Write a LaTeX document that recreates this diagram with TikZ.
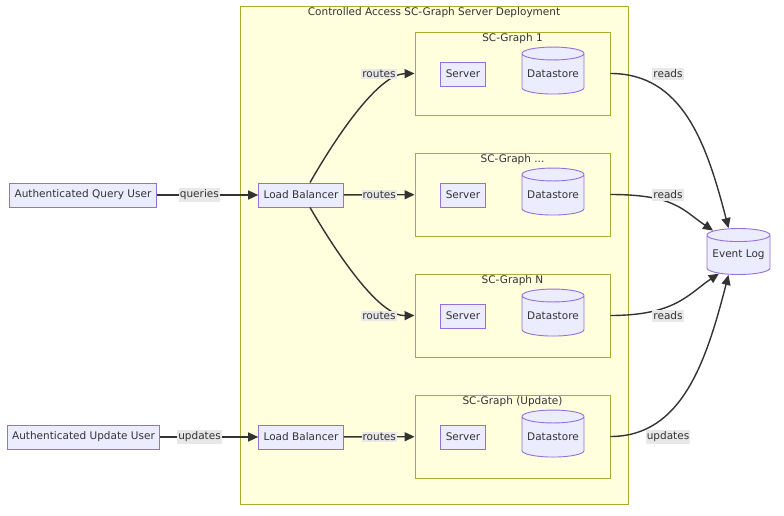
\documentclass[tikz,border=0pt]{standalone}
\usepackage{fontspec}
\setmainfont{DejaVu Sans}
\usetikzlibrary{shapes.geometric,arrows.meta}

\definecolor{nodefill}{HTML}{ECECFF}
\definecolor{nodeline}{HTML}{9370DB}
\definecolor{clusterfill}{HTML}{FFFFDE}
\definecolor{clusterline}{HTML}{AAAA33}
\definecolor{inkgray}{HTML}{333333}
\definecolor{labelgray}{HTML}{E8E8E8}

\tikzset{
  box/.style={draw=nodeline, fill=nodefill, line width=0.9pt, inner xsep=5pt, minimum height=24pt, text=inkgray},
  dbase/.style={cylinder, shape border rotate=90, aspect=0.25, draw=nodeline, fill=nodefill, line width=0.9pt, minimum width=62pt, minimum height=47pt, inner sep=0pt, text=inkgray},
  cluster/.style={draw=clusterline, fill=clusterfill, line width=0.9pt},
  ctitle/.style={text=inkgray, inner sep=0pt},
  flow/.style={draw=inkgray, line width=1.4pt, -{Triangle[length=10pt,width=9pt]}},
  elabel/.style={fill=labelgray, text=inkgray, inner xsep=1pt, inner ysep=1.5pt}
}

\begin{document}
\begin{tikzpicture}[x=1pt, y=-1pt, font=\fontsize{10.5}{12.6}\selectfont]
  \useasboundingbox (0,0) rectangle (784,516);

  % Draw the clusters
  \node[cluster, minimum width=388, minimum height=498] (deploy) at (434,255) {};
  \node[ctitle] (deploytitle) at (434,13) {Controlled Access SC-Graph Server Deployment};

  \node[cluster, minimum width=195, minimum height=83] (sgone) at (512.5,73.5) {};
  \node[ctitle] (sgonetitle) at (512.5,39) {SC-Graph 1};

  \node[cluster, minimum width=195, minimum height=83] (sgdots) at (512.5,194.5) {};
  \node[ctitle] (sgdotstitle) at (512.5,160) {SC-Graph ...};

  \node[cluster, minimum width=195, minimum height=83] (sgn) at (512.5,315.5) {};
  \node[ctitle] (sgntitle) at (512.5,281) {SC-Graph N};

  \node[cluster, minimum width=195, minimum height=83] (sgupd) at (512.5,436.5) {};
  \node[ctitle] (sgupdtitle) at (512.5,402) {SC-Graph (Update)};

  % Servers and datastores inside each cluster
  \node[box] (srvone) at (463,74) {Server};
  \node[dbase] (dsone) at (553,74) {Datastore};
  \node[box] (srvdots) at (463,195) {Server};
  \node[dbase] (dsdots) at (553,195) {Datastore};
  \node[box] (srvn) at (463,316) {Server};
  \node[dbase] (dsn) at (553,316) {Datastore};
  \node[box] (srvupd) at (463,437) {Server};
  \node[dbase] (dsupd) at (553,437) {Datastore};

  % Users, load balancers and the log
  \node[box] (quser) at (83,195) {Authenticated Query User};
  \node[box] (uuser) at (83.5,437) {Authenticated Update User};
  \node[box] (lbq) at (301,195) {Load Balancer};
  \node[box] (lbu) at (301,437) {Load Balancer};
  \node[dbase, minimum width=63pt, minimum height=46pt] (evlog) at (738.5,255) {Event Log};

  % Query side
  \draw[flow] (quser) -- (lbq) node[elabel, pos=0.42] (qlabel) {queries};
  \draw[flow] ([xshift=9pt]lbq.north) .. controls (340,130) and (380,74) .. (sgone.west);
  \node[elabel] (rone) at (379,74) {routes};
  \draw[flow] (lbq) -- (sgdots) node[elabel, midway] (rdots) {routes};
  \draw[flow] ([xshift=9pt]lbq.south) .. controls (340,259) and (380,316) .. (sgn.west);
  \node[elabel] (rn) at (379,316) {routes};

  % Update side
  \draw[flow] (uuser) -- (lbu) node[elabel, pos=0.4] (ulabel) {updates};
  \draw[flow] (lbu) -- (sgupd) node[elabel, midway] (rupd) {routes};

  % Into the event log
  \draw[flow] (sgone.east) .. controls +(72,0) and +(-22,-85) .. ([xshift=-10pt]evlog.north);
  \node[elabel] (readone) at (668,74) {reads};
  \draw[flow] (sgdots.east) .. controls +(65,0) and +(-30,-20) .. ([xshift=-1pt]evlog.north west);
  \node[elabel] (readdots) at (668,195) {reads};
  \draw[flow] (sgn.east) .. controls +(65,0) and +(-30,20) .. ([xshift=-1pt]evlog.south west);
  \node[elabel] (readn) at (668,316) {reads};
  \draw[flow] (sgupd.east) .. controls +(72,0) and +(-22,85) .. ([xshift=-10pt]evlog.south);
  \node[elabel] (updlog) at (668,437) {updates};
\end{tikzpicture}
\end{document}
